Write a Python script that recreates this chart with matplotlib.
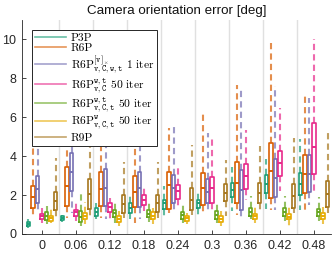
import numpy as np
import matplotlib
matplotlib.use("Agg")
import matplotlib.pyplot as plt
from matplotlib.lines import Line2D

plt.rcParams["font.family"] = ["Liberation Sans", "DejaVu Sans"]
plt.rcParams["mathtext.fontset"] = "cm"

# noise levels (x groups)
noise = ["0", "0.06", "0.12", "0.18", "0.24", "0.3", "0.36", "0.42", "0.48"]

labels = [
    r"P3P",
    r"R6P",
    r"R6P$^{[\mathtt{v}]_\times}_{\mathtt{v,C,w,t}}$ 1 iter",
    r"R6P$^{\mathtt{w,t}}_{\mathtt{v,C}}$ 50 iter",
    r"R6P$^{\mathtt{w,t}}_{\mathtt{v,C,t}}$ 50 iter",
    r"R6P$^{\mathtt{w}}_{\mathtt{v,C,t}}$ 50 iter",
    r"R9P",
]
colors = ["#1b9e77", "#d95f02", "#7570b3", "#e7298a", "#66a61e", "#e6ab02", "#a6761d"]

# box statistics, one row per method, one column per noise level
med = [
    [0.50, 0.80, 1.15, 1.35, 1.58, 1.58, 2.28, 2.56, 2.56],
    [1.92, 2.45, 2.30, 2.15, 2.50, 2.36, 2.64, 3.25, 3.09],
    [2.32, 3.17, 2.38, 2.36, 2.36, 2.18, 2.28, 2.89, 3.09],
    [0.93, 1.12, 1.38, 1.77, 2.20, 2.36, 2.97, 3.63, 4.48],
    [0.92, 0.88, 1.08, 1.05, 1.00, 1.00, 1.15, 1.12, 1.12],
    [0.82, 0.92, 0.76, 0.95, 0.80, 0.79, 0.92, 0.89, 0.92],
    [1.71, 2.05, 1.55, 1.58, 1.77, 2.12, 2.10, 1.94, 2.07],
]
q1 = [
    [0.42, 0.70, 0.93, 1.08, 1.28, 1.33, 1.90, 2.10, 1.99],
    [1.33, 1.45, 1.43, 1.37, 1.28, 1.49, 1.61, 1.87, 2.10],
    [1.58, 2.20, 1.42, 1.41, 1.61, 1.61, 1.25, 1.90, 2.15],
    [0.78, 0.95, 1.15, 1.49, 1.82, 1.61, 2.32, 2.97, 3.09],
    [0.72, 0.60, 0.87, 0.87, 0.79, 0.79, 0.95, 0.92, 0.92],
    [0.68, 0.77, 0.62, 0.76, 0.67, 0.62, 0.76, 0.76, 0.76],
    [1.22, 1.28, 1.08, 1.12, 1.25, 1.71, 1.58, 1.33, 1.41],
]
q3 = [
    [0.60, 0.90, 1.33, 1.58, 1.77, 1.77, 2.64, 3.02, 3.14],
    [2.48, 3.42, 3.18, 2.97, 3.19, 3.14, 3.68, 4.66, 4.04],
    [2.97, 4.15, 3.34, 3.19, 3.05, 2.81, 3.30, 3.87, 4.04],
    [1.05, 1.25, 1.58, 2.02, 2.51, 2.94, 3.58, 4.29, 5.71],
    [1.12, 1.17, 1.25, 1.21, 1.13, 1.17, 1.33, 1.33, 1.28],
    [0.92, 1.08, 0.92, 1.12, 0.92, 0.95, 1.03, 1.03, 1.08],
    [2.18, 2.81, 1.99, 1.99, 2.36, 2.56, 2.64, 2.56, 2.73],
]
wlo = [
    [0.30, 0.60, 0.76, 0.76, 0.92, 1.00, 1.17, 1.28, 1.25],
    [0.84, 0.84, 0.84, 0.59, 1.08, 1.08, 1.00, 1.25, 1.08],
    [1.08, 1.10, 0.76, 0.76, 1.08, 1.08, 0.84, 1.25, 1.50],
    [0.59, 0.67, 0.76, 1.17, 1.33, 1.08, 1.74, 2.23, 2.23],
    [0.51, 0.43, 0.59, 0.60, 0.54, 0.59, 0.76, 0.67, 0.67],
    [0.55, 0.51, 0.43, 0.51, 0.51, 0.43, 0.59, 0.43, 0.51],
    [0.76, 0.76, 0.84, 0.84, 1.00, 0.92, 1.08, 1.08, 1.08],
]
whi = [
    [0.75, 1.00, 1.60, 2.00, 2.48, 2.27, 3.46, 3.84, 4.86],
    [4.50, 6.50, 6.20, 5.60, 5.43, 6.15, 7.65, 9.98, 7.24],
    [6.00, 7.00, 6.40, 5.80, 5.50, 5.20, 7.50, 7.63, 7.00],
    [1.35, 1.58, 1.85, 2.48, 3.50, 4.90, 5.35, 6.47, 10.03],
    [1.45, 2.15, 1.66, 1.60, 1.49, 1.66, 1.94, 1.94, 1.90],
    [1.30, 1.66, 1.19, 1.33, 1.08, 1.17, 1.41, 1.41, 1.41],
    [3.90, 4.56, 3.71, 3.71, 4.56, 3.79, 4.50, 4.94, 5.19],
]

fig = plt.figure(figsize=(3.32, 2.60), dpi=100)
ax = fig.add_axes([22 / 332, 26 / 260, 309 / 332, 214 / 260])

step = 0.133
for j in range(len(labels)):
    stats = []
    for i in range(len(noise)):
        stats.append(dict(med=med[j][i], q1=q1[j][i], q3=q3[j][i],
                          whislo=wlo[j][i], whishi=whi[j][i], fliers=[]))
    pos = np.arange(len(noise)) + (j - 3) * step
    c = colors[j]
    ax.bxp(stats, positions=pos, widths=0.1, showcaps=False, showfliers=False,
           manage_ticks=False,
           boxprops=dict(color=c, linewidth=1.2),
           medianprops=dict(color=c, linewidth=1.4),
           whiskerprops=dict(color=c, alpha=0.7, linewidth=1.5,
                             linestyle=(0, (3, 2))))

for b in np.arange(len(noise) - 1) + 0.5:
    ax.axvline(b, color="#e0e0e0", linewidth=1.0, zorder=0)

ax.set_xlim(-0.59, 8.5)
ax.set_ylim(0, 11)
ax.set_xticks(np.arange(len(noise)))
ax.set_xticklabels(noise)
ax.set_yticks([0, 2, 4, 6, 8, 10])
ax.tick_params(direction="in", length=3, width=0.6, labelsize=9,
               colors="#262626", pad=4)
for s in ["top", "right"]:
    ax.spines[s].set_visible(False)
for s in ["left", "bottom"]:
    ax.spines[s].set_color("#262626")
    ax.spines[s].set_linewidth(0.6)

ax.set_title("Camera orientation error [deg]", fontsize=9.6, color="#111111", pad=4)

handles = [Line2D([], [], color=c, alpha=0.65, linewidth=1.2) for c in colors]
leg = ax.legend(handles, labels, loc="upper left", bbox_to_anchor=(0.032, 0.955),
                borderaxespad=0, fancybox=False, framealpha=1, edgecolor="#262626",
                prop=dict(family="cmr10", size=8.3), handlelength=2.7,
                handletextpad=0.4, labelspacing=0.06, borderpad=0.25)
leg.get_frame().set_linewidth(0.7)

fig.savefig("out.png", dpi=100)
